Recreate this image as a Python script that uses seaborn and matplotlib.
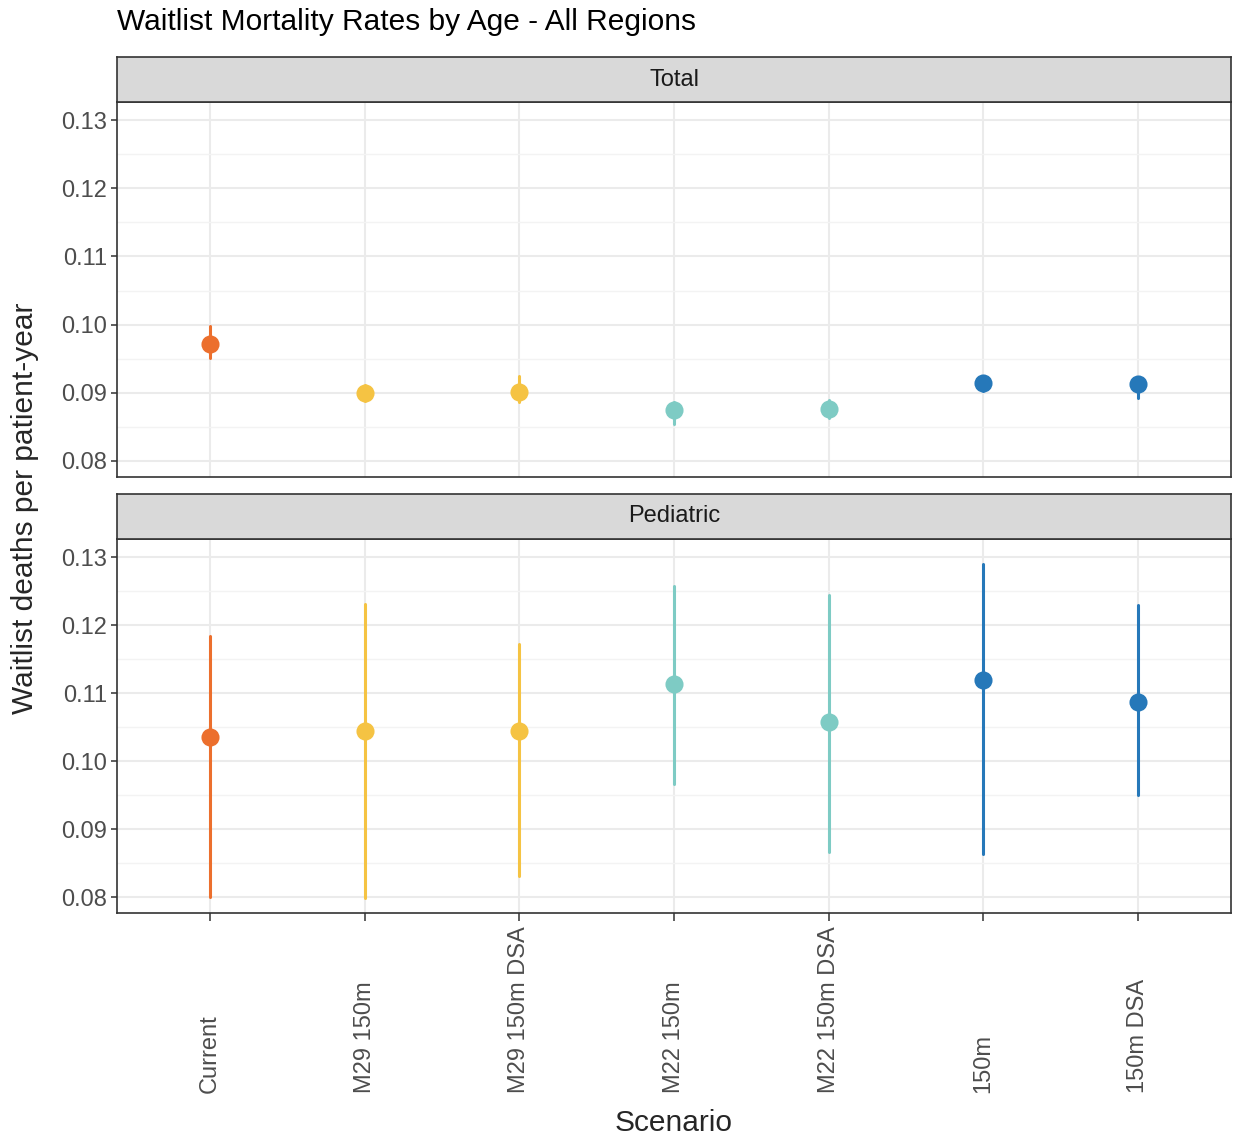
import matplotlib
matplotlib.use('agg')

import matplotlib.pyplot as plt
import matplotlib.transforms as mtrans
from matplotlib.ticker import MultipleLocator
import seaborn as sns
import pandas as pd

scenarios = ['Current', 'M29 150m', 'M29 150m DSA', 'M22 150m', 'M22 150m DSA', '150m', '150m DSA']
scen_colors = ['#EC6F2D', '#F5C343', '#F5C343', '#7ECBC4', '#7ECBC4', '#2678B9', '#2678B9']

# Total
total_mid = [0.0972, 0.0900, 0.0901, 0.0875, 0.0876, 0.0914, 0.0913]
total_lo = [0.0951, 0.0888, 0.0887, 0.0854, 0.0863, 0.0903, 0.0892]
total_hi = [0.0998, 0.0911, 0.0925, 0.0887, 0.0889, 0.0925, 0.0923]

# Pediatric
ped_mid = [0.1035, 0.1044, 0.1044, 0.1113, 0.1057, 0.1119, 0.1087]
ped_lo = [0.0800, 0.0798, 0.0831, 0.0966, 0.0866, 0.0863, 0.0950]
ped_hi = [0.1184, 0.1231, 0.1172, 0.1257, 0.1244, 0.1290, 0.1229]

panels = ['Total', 'Pediatric']

def long_df(lo, mid, hi):
    rows = []
    for s, a, b, c in zip(scenarios, lo, mid, hi):
        for v in (a, b, c):
            rows.append({'Scenario': s, 'rate': v})
    return pd.DataFrame(rows)

sns.set_style('white')
plt.rcParams['font.family'] = ['Liberation Sans', 'DejaVu Sans']

W, H = 1236, 1140
fig = plt.figure(figsize=(W / 100, H / 100), dpi=100)

def fx(px):
    return px / W

def fy(py):
    return 1 - py / H

panel_px = [(102, 477), (539, 913)]
strip_px = [(57, 102), (494, 539)]
left, right = 117, 1231
tick_fs = 17

data = [(total_lo, total_mid, total_hi), (ped_lo, ped_mid, ped_hi)]
palette = dict(zip(scenarios, scen_colors))

for i, name in enumerate(panels):
    t, b = panel_px[i]
    ax = fig.add_axes([fx(left), fy(b), fx(right - left), (b - t) / H])
    df = long_df(*data[i])
    sns.pointplot(data=df, x='Scenario', y='rate', hue='Scenario', order=scenarios,
                  hue_order=scenarios, palette=palette, estimator='median',
                  errorbar=lambda v: (v.min(), v.max()), linestyle='none',
                  markersize=11, err_kws={'linewidth': 2.2}, legend=False, ax=ax)
    ax.set_xlim(-0.6, 6.6)
    ax.set_ylim(0.07765, 0.13265)
    ax.yaxis.set_major_locator(MultipleLocator(0.01))
    ax.yaxis.set_minor_locator(MultipleLocator(0.005))
    ax.set_yticklabels([f'{v:.2f}' for v in ax.get_yticks()])
    ax.grid(True, which='major', color='#EBEBEB', linewidth=1.5, zorder=0)
    ax.grid(True, which='minor', axis='y', color='#F3F3F3', linewidth=1.0, zorder=0)
    ax.set_axisbelow(True)
    for sp in ax.spines.values():
        sp.set_color('#333333')
        sp.set_linewidth(1.2)
        sp.set_visible(True)
    ax.tick_params(axis='y', which='major', left=True, length=4, width=1.1,
                   color='#333333', labelsize=tick_fs, labelcolor='#4D4D4D', pad=3)
    ax.tick_params(axis='y', which='minor', left=False)
    ax.set_xlabel('')
    ax.set_ylabel('')
    if i == 0:
        ax.tick_params(axis='x', bottom=False, labelbottom=False)
    else:
        ax.tick_params(axis='x', bottom=True, length=6, width=1.1, color='#333333',
                       labelbottom=False)
        trans = mtrans.blended_transform_factory(ax.transData, fig.transFigure)
        for k, s in enumerate(scenarios):
            ax.text(k, fy(1093), s, rotation=90, ha='center', va='bottom',
                    fontsize=tick_fs, color='#4D4D4D', transform=trans)

    st, sb = strip_px[i]
    sax = fig.add_axes([fx(left), fy(sb), fx(right - left), (sb - st) / H])
    sax.set_facecolor('#D9D9D9')
    sax.set_xticks([])
    sax.set_yticks([])
    for sp in sax.spines.values():
        sp.set_color('#333333')
        sp.set_linewidth(1.2)
    sax.text(0.5, 0.5, name, ha='center', va='center', fontsize=17,
             color='#1A1A1A', transform=sax.transAxes)

fig.text(fx(117), fy(22), 'Waitlist Mortality Rates by Age - All Regions',
         ha='left', va='center', fontsize=21.5, color='#000000')
fig.text(fx(25), fy(508), 'Waitlist deaths per patient-year', rotation=90,
         ha='center', va='center', fontsize=21.5)
fig.text(fx(674), fy(1123), 'Scenario', ha='center', va='center', fontsize=21.5)

fig.savefig('out.png', dpi=100)
